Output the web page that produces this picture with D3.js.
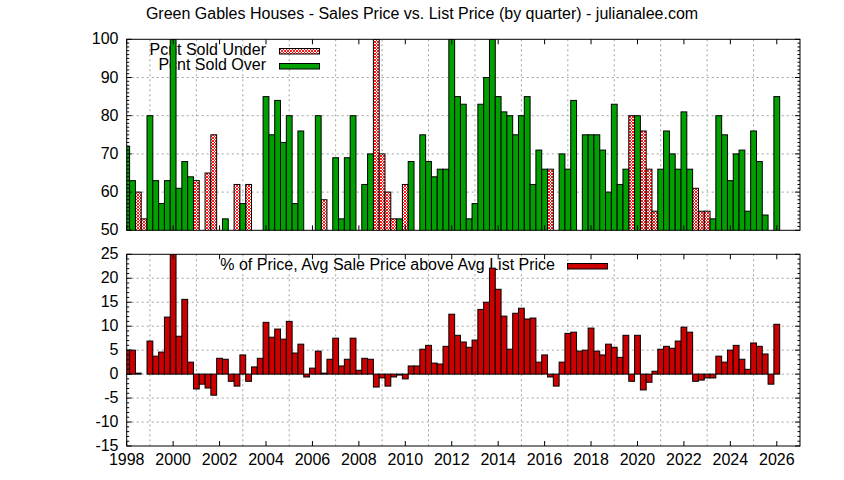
<!DOCTYPE html>
<html>
<head>
<meta charset="utf-8">
<script src="https://cdn.jsdelivr.net/npm/d3@7"></script>
<style>
  html, body { margin: 0; padding: 0; background: #fff; }
  svg { display: block; font-family: "Liberation Sans", Arial, sans-serif; }
</style>
</head>
<body>
<div id="chart"></div>
<script>
// quarterly data, first quarter is 1998 Q1
const startYear = 1998;

// percent of homes sold under list (null = quarter shown as "over" or empty)
const pcntUnder = [
  null, null, 60, 53,   null, null, null, null,   // 1998, 1999
  null, null, null, null, 63, null, 65, 75,      // 2000, 2001
  null, null, null, 62, null, 62, null, null,    // 2002, 2003
  null, null, null, null, null, null, null, null, // 2004, 2005
  null, null, 58, null, null, null, null, null,  // 2006, 2007
  null, null, null, 100, 70, 60, 53, null,       // 2008, 2009
  62, null, null, null, null, null, null, null,  // 2010, 2011
  null, null, null, null, null, null, null, null, // 2012, 2013
  null, null, null, null, null, null, null, null, // 2014, 2015
  null, 66, null, null, null, null, null, null,  // 2016, 2017
  null, null, null, null, null, null, null, 80,  // 2018, 2019
  null, 76, 66, 55, null, null, null, null,      // 2020, 2021
  null, null, 61, 55, 55, null, null, null,      // 2022, 2023
  null, null, null, null, null, null, null, null, // 2024, 2025
  null                                           // 2026
];

// percent of homes sold over list
const pcntOver = [
  72, 63, null, null, 80, 63, 57, 63,            // 1998, 1999
  100, 61, 68, 64, null, null, null, null,       // 2000, 2001
  null, 53, null, null, 57, null, null, null,    // 2002, 2003
  85, 75, 84, 73, 80, 57, 76, null,              // 2004, 2005
  null, 80, null, null, 69, 53, 69, 80,          // 2006, 2007
  null, 62, 70, null, null, null, null, 53,      // 2008, 2009
  null, 68, null, 75, 68, 64, 66, 66,            // 2010, 2011
  100, 85, 83, 53, 57, 83, 90, 100,              // 2012, 2013
  85, 81, 80, 75, 80, 85, 62, 71,                // 2014, 2015
  66, null, null, 70, 66, 84, null, 75,          // 2016, 2017
  75, 75, 71, 60, 83, 62, 66, null,              // 2018, 2019
  80, null, null, null, 66, 76, 70, 66,          // 2020, 2021
  81, 66, null, null, null, 53, 80, 75,          // 2022, 2023
  63, 70, 71, 55, 76, 68, 54, null,              // 2024, 2025
  85                                             // 2026
];

// avg sale price above avg list price, percent
const avgAbove = [
  5.0, 5.0, 0.2, 0,       6.9, 3.75, 4.6, 11.9,   // 1998, 1999
  26, 7.9, 15.6, 2.5,     -3.1, -2.1, -2.9, -4.4, // 2000, 2001
  3.3, 3.1, -1.5, -2.5,   4.0, -1.5, 1.5, 3.3,    // 2002, 2003
  10.8, 7.7, 9.4, 7.3,    11.0, 4.4, 6.25, -0.6,  // 2004, 2005
  1.25, 4.8, 0.2, 3.1,    7.5, 1.7, 3.1, 7.5,     // 2006, 2007
  0.8, 3.3, 3.1, -2.7,    -0.8, -2.5, -0.6, -0.2, // 2008, 2009
  -1.0, 1.7, 1.7, 5.2,    6.0, 2.3, 2.1, 5.8,     // 2010, 2011
  12.5, 8.1, 6.7, 5.6,    7.1, 13.5, 15.0, 22.1,  // 2012, 2013
  17.7, 12.1, 5.2, 12.7,  13.75, 11.5, 11.7, 2.5, // 2014, 2015
  4.0, -0.6, -2.5, 2.5,   8.5, 8.75, 4.8, 5.0,    // 2016, 2017
  9.6, 4.8, 4.0, 6.25,    5.6, 3.5, 8.1, -1.5,    // 2018, 2019
  8.1, -3.3, -1.7, 0.6,   5.2, 5.8, 5.4, 6.9,     // 2020, 2021
  9.8, 8.75, -1.5, -1.25, -0.8, -0.8, 3.75, 2.5,  // 2022, 2023
  5.0, 6.0, 3.1, 1.0,     6.5, 5.8, 4.2, -2.1,    // 2024, 2025
  10.4, 0                                         // 2026
];

const xTickYears = d3.range(1998, 2027, 2);
const xGridYears = d3.range(1999, 2028, 2);
const topTicks = [50, 60, 70, 80, 90, 100];
const bottomTicks = [-15, -10, -5, 0, 5, 10, 15, 20, 25];

const chartTitle = 'Green Gables Houses - Sales Price vs. List Price (by quarter) - julianalee.com';
const underLabel = 'Pcnt Sold Under';
const overLabel = 'Pcnt Sold Over';
const avgLabel = '% of Price, Avg Sale Price above Avg List Price';

const width = 844, height = 480;
const fontSize = 16;
const plotLeft = 126.7, plotRight = 800;
const topPanel = { top: 39.3, bottom: 230.3 };
const bottomPanel = { top: 254.3, bottom: 446 };

const green = '#00a000';
const red = '#cc0000';
const gridColor = '#a0a0a0';

const svg = d3.select('#chart')
  .append('svg')
  .attr('width', width)
  .attr('height', height)
  .attr('viewBox', `0 0 ${width} ${height}`);

svg.append('rect').attr('width', width).attr('height', height).attr('fill', '#fff');

const defs = svg.append('defs');

// crosshatch fill for "sold under"
const hatch = defs.append('pattern')
  .attr('id', 'hatch')
  .attr('patternUnits', 'userSpaceOnUse')
  .attr('width', 3)
  .attr('height', 3);
hatch.append('rect').attr('width', 3).attr('height', 3).attr('fill', '#fff');
hatch.append('path')
  .attr('d', 'M0,0L3,3M3,0L0,3')
  .attr('stroke', '#ff0000')
  .attr('stroke-width', 0.9);

const x = d3.scaleLinear().domain([1998, 2027]).range([plotLeft, plotRight]);
const barW = x(startYear + 0.25) - x(startYear);
const qx = i => x(startYear + i / 4);

const yTop = d3.scaleLinear().domain([50, 100]).range([topPanel.bottom, topPanel.top]);
const yBot = d3.scaleLinear().domain([-15, 25]).range([bottomPanel.bottom, bottomPanel.top]);

function addClip(id, p) {
  defs.append('clipPath').attr('id', id)
    .append('rect')
    .attr('x', plotLeft).attr('y', p.top)
    .attr('width', plotRight - plotLeft).attr('height', p.bottom - p.top);
}
addClip('clipTop', topPanel);
addClip('clipBot', bottomPanel);

function drawGrid(p, y, ticks) {
  const g = svg.append('g')
    .attr('stroke', gridColor)
    .attr('stroke-width', 1)
    .attr('stroke-dasharray', '2,3');
  g.selectAll('line.v')
    .data(xGridYears.filter(d => x(d) < plotRight - 1))
    .join('line')
    .attr('x1', d => x(d)).attr('x2', d => x(d))
    .attr('y1', p.top).attr('y2', p.bottom);
  g.selectAll('line.h')
    .data(ticks.filter(d => y(d) > p.top + 1 && y(d) < p.bottom - 1))
    .join('line')
    .attr('x1', plotLeft).attr('x2', plotRight)
    .attr('y1', d => y(d)).attr('y2', d => y(d));
}

function drawFrame(p, y, ticks, minorStep) {
  const g = svg.append('g').attr('stroke', '#000').attr('stroke-width', 1).attr('fill', 'none');
  const [lo, hi] = y.domain();
  const minors = d3.range(lo, hi + 0.001, minorStep).filter(v => !ticks.includes(v));
  // major y ticks, both sides
  ticks.forEach(v => {
    g.append('line').attr('x1', plotLeft).attr('x2', plotLeft + 5).attr('y1', y(v)).attr('y2', y(v));
    g.append('line').attr('x1', plotRight).attr('x2', plotRight - 5).attr('y1', y(v)).attr('y2', y(v));
  });
  minors.forEach(v => {
    g.append('line').attr('x1', plotLeft).attr('x2', plotLeft + 2.5).attr('y1', y(v)).attr('y2', y(v));
    g.append('line').attr('x1', plotRight).attr('x2', plotRight - 2.5).attr('y1', y(v)).attr('y2', y(v));
  });
  // x ticks, top and bottom
  xTickYears.forEach(yr => {
    g.append('line').attr('x1', x(yr)).attr('x2', x(yr)).attr('y1', p.bottom).attr('y2', p.bottom - 5);
    g.append('line').attr('x1', x(yr)).attr('x2', x(yr)).attr('y1', p.top).attr('y2', p.top + 5);
  });
  g.append('rect')
    .attr('x', plotLeft).attr('y', p.top)
    .attr('width', plotRight - plotLeft).attr('height', p.bottom - p.top);

  svg.append('g')
    .attr('font-size', fontSize)
    .attr('text-anchor', 'end')
    .attr('fill', '#000')
    .selectAll('text')
    .data(ticks)
    .join('text')
    .attr('x', 118.5)
    .attr('y', d => y(d) + 5)
    .text(d => d);
}

// title
svg.append('text')
  .attr('x', 422).attr('y', 18.5)
  .attr('text-anchor', 'middle')
  .attr('font-size', fontSize)
  .text(chartTitle);

// ---- top panel ----
drawGrid(topPanel, yTop, topTicks);

const topKey = svg.append('g').attr('font-size', fontSize).attr('text-anchor', 'end');
topKey.append('text').attr('x', 266).attr('y', 54.5).text(underLabel);
topKey.append('text').attr('x', 266).attr('y', 69.5).text(overLabel);

const topBars = svg.append('g').attr('clip-path', 'url(#clipTop)')
  .attr('stroke', '#000').attr('stroke-width', 1);

topBars.selectAll('rect.under')
  .data(pcntUnder.map((v, i) => ({ v, i })).filter(d => d.v != null))
  .join('rect')
  .attr('x', d => qx(d.i) - barW / 2)
  .attr('width', barW)
  .attr('y', d => yTop(d.v))
  .attr('height', d => yTop(0) - yTop(d.v))
  .attr('fill', 'url(#hatch)');

topBars.selectAll('rect.over')
  .data(pcntOver.map((v, i) => ({ v, i })).filter(d => d.v != null))
  .join('rect')
  .attr('x', d => qx(d.i) - barW / 2)
  .attr('width', barW)
  .attr('y', d => yTop(d.v))
  .attr('height', d => yTop(0) - yTop(d.v))
  .attr('fill', green);

// key samples
svg.append('rect').attr('x', 279.5).attr('y', 48.5).attr('width', 40).attr('height', 5.5)
  .attr('fill', 'url(#hatch)').attr('stroke', '#000');
svg.append('rect').attr('x', 279.5).attr('y', 63.5).attr('width', 40).attr('height', 5.5)
  .attr('fill', green).attr('stroke', '#000');

drawFrame(topPanel, yTop, topTicks, 1);

// ---- bottom panel ----
drawGrid(bottomPanel, yBot, bottomTicks);

svg.append('text')
  .attr('x', 555).attr('y', 270)
  .attr('text-anchor', 'end')
  .attr('font-size', fontSize)
  .text(avgLabel);

svg.append('g').attr('clip-path', 'url(#clipBot)')
  .attr('stroke', '#000').attr('stroke-width', 1)
  .selectAll('rect')
  .data(avgAbove.map((v, i) => ({ v, i })))
  .join('rect')
  .attr('x', d => qx(d.i) - barW / 2)
  .attr('width', barW)
  .attr('y', d => Math.min(yBot(d.v), yBot(0)))
  .attr('height', d => Math.abs(yBot(d.v) - yBot(0)))
  .attr('fill', red);

svg.append('rect').attr('x', 567.5).attr('y', 263.5).attr('width', 40).attr('height', 5.5)
  .attr('fill', red).attr('stroke', '#000');

drawFrame(bottomPanel, yBot, bottomTicks, 1);

svg.append('g')
  .attr('font-size', fontSize)
  .attr('text-anchor', 'middle')
  .selectAll('text')
  .data(xTickYears)
  .join('text')
  .attr('x', d => x(d))
  .attr('y', 465)
  .text(d => d);
</script>
</body>
</html>
